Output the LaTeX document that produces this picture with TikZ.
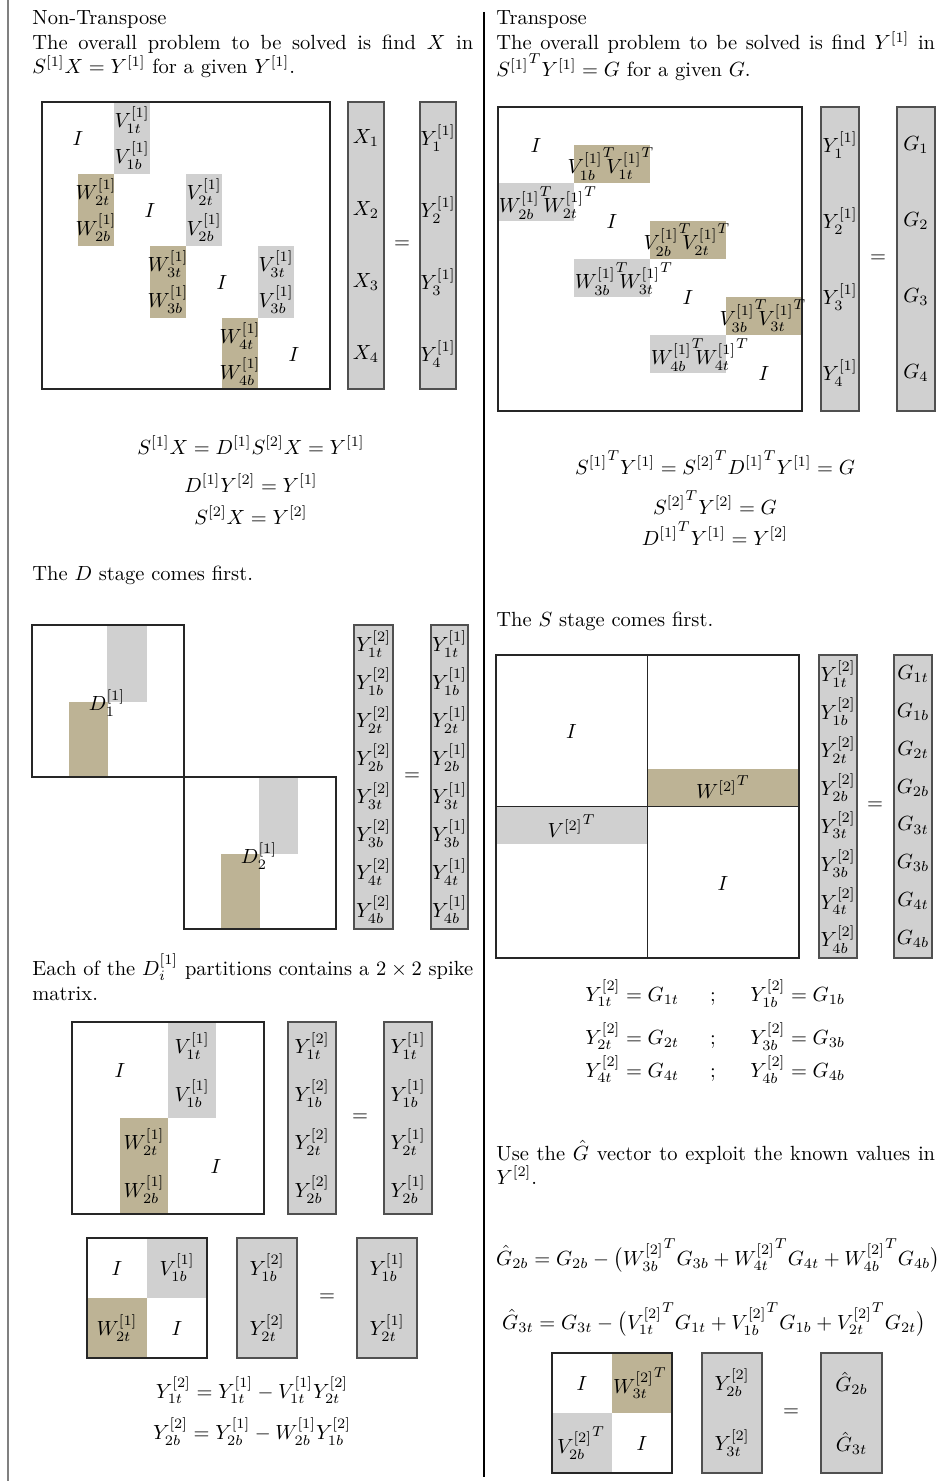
\documentclass[tikz,border=0pt]{standalone}
\usepackage{amsmath}
\definecolor{tanc}{RGB}{189,179,149}
\definecolor{lgray}{RGB}{208,208,208}
\definecolor{vborder}{RGB}{80,80,80}
\tikzset{
  mbox/.style={draw=black!85, line width=0.6pt},
  vecbox/.style={fill=lgray, draw=vborder, line width=0.6pt},
  tanfill/.style={fill=tanc},
  grayfill/.style={fill=lgray},
  lbl/.style={inner sep=0pt, anchor=center},
  txt/.style={inner sep=0pt, anchor=base west},
  eqn/.style={inner sep=0pt, anchor=base},
}
\newcommand{\tpair}[3]{${#1_{#2}^{[1]}}^{T}\mkern-8mu{#1_{#3}^{[1]}}^{T}$}
\begin{document}
\begin{tikzpicture}[x=0.4878pt,y=-0.4878pt]
\useasboundingbox (0,0) rectangle (949,1481);
\draw[gray, line width=0.5pt] (8,0) -- (8,1481);
\draw[black, line width=1pt] (484,12) -- (484,1477);

% ================= LEFT COLUMN =================
\node[txt] (t1) at (32,25) {Non-Transpose};
\node[txt] (t2) at (32,50) {\makebox[215pt][s]{The overall problem to be solved is find $X$ in}};
\node[txt] (t3) at (32,74) {$S^{[1]}X = Y^{[1]}$ for a given $Y^{[1]}$.};

% Matrix 1
\fill[grayfill] (114,102) rectangle (150,174);
\fill[tanfill] (78,174) rectangle (114,246);
\fill[grayfill] (186,174) rectangle (222,246);
\fill[tanfill] (150,246) rectangle (186,318);
\fill[grayfill] (258,246) rectangle (294,318);
\fill[tanfill] (222,318) rectangle (258,389);
\draw[mbox] (42,102) rectangle (330,389);
\node[lbl] (a1) at (78,138) {$I$};
\node[lbl] (a2) at (150,210) {$I$};
\node[lbl] (a3) at (222,282) {$I$};
\node[lbl] (a4) at (294,354) {$I$};
\node[lbl] (av1t) at (132,120) {$V_{1t}^{[1]}$};
\node[lbl] (av1b) at (132,156) {$V_{1b}^{[1]}$};
\node[lbl] (aw2t) at (96,192) {$W_{2t}^{[1]}$};
\node[lbl] (aw2b) at (96,228) {$W_{2b}^{[1]}$};
\node[lbl] (av2t) at (204,192) {$V_{2t}^{[1]}$};
\node[lbl] (av2b) at (204,228) {$V_{2b}^{[1]}$};
\node[lbl] (aw3t) at (168,264) {$W_{3t}^{[1]}$};
\node[lbl] (aw3b) at (168,300) {$W_{3b}^{[1]}$};
\node[lbl] (av3t) at (276,264) {$V_{3t}^{[1]}$};
\node[lbl] (av3b) at (276,300) {$V_{3b}^{[1]}$};
\node[lbl] (aw4t) at (240,336) {$W_{4t}^{[1]}$};
\node[lbl] (aw4b) at (240,372) {$W_{4b}^{[1]}$};
\draw[vecbox] (348,102) rectangle (384,389);
\draw[vecbox] (420,102) rectangle (456,389);
\foreach \k in {1,...,4} {
  \node[lbl] (ax\k) at (366,66+72*\k) {$X_{\k}$};
  \node[lbl] (ay\k) at (438,66+72*\k) {$Y_{\k}^{[1]}$};
}
\node[lbl] (aeq) at (402,245) {$=$};

\node[eqn] (e1) at (251,454) {$S^{[1]}X = D^{[1]}S^{[2]}X = Y^{[1]}$};
\node[eqn] (e2) at (251,492) {$D^{[1]}Y^{[2]} = Y^{[1]}$};
\node[eqn] (e3) at (251,524) {$S^{[2]}X = Y^{[2]}$};
\node[txt] (t4) at (32,580) {The $D$ stage comes first.};

% D matrix
\fill[grayfill] (107,625) rectangle (147,702);
\fill[tanfill] (69,702) rectangle (108,777);
\fill[grayfill] (259,777) rectangle (298,854);
\fill[tanfill] (221,854) rectangle (260,929);
\draw[mbox] (32,625) rectangle (184,777);
\draw[mbox] (184,777) rectangle (336,929);
\node[lbl] (d1) at (107,703) {$D_1^{[1]}$};
\node[lbl] (d2) at (259,856) {$D_2^{[1]}$};
\draw[vecbox] (354,625) rectangle (393,929);
\draw[vecbox] (431,625) rectangle (468,929);
\foreach \s [count=\k] in {1t,1b,2t,2b,3t,3b,4t,4b} {
  \node[lbl] (by\k) at (373.5,606+38*\k) {$Y_{\s}^{[2]}$};
  \node[lbl] (bz\k) at (449.5,606+38*\k) {$Y_{\s}^{[1]}$};
}
\node[lbl] (beq) at (412,777) {$=$};

\node[txt] (t5) at (32,975) {\makebox[215pt][s]{Each of the $D_i^{[1]}$ partitions contains a $2\times2$ spike}};
\node[txt] (t6) at (32,1000) {matrix.};

% Matrix 3
\fill[grayfill] (168,1022) rectangle (216,1118);
\fill[tanfill] (120,1118) rectangle (168,1214);
\draw[mbox] (72,1022) rectangle (264,1214);
\node[lbl] (c1) at (120,1070) {$I$};
\node[lbl] (c2) at (216,1166) {$I$};
\node[lbl] (cv1t) at (192,1046) {$V_{1t}^{[1]}$};
\node[lbl] (cv1b) at (192,1094) {$V_{1b}^{[1]}$};
\node[lbl] (cw2t) at (144,1142) {$W_{2t}^{[1]}$};
\node[lbl] (cw2b) at (144,1190) {$W_{2b}^{[1]}$};
\draw[vecbox] (288,1022) rectangle (336,1214);
\draw[vecbox] (384,1022) rectangle (432,1214);
\foreach \s [count=\k] in {1t,1b,2t,2b} {
  \node[lbl] (cy\k) at (312,998+48*\k) {$Y_{\s}^{[2]}$};
  \node[lbl] (cz\k) at (408,998+48*\k) {$Y_{\s}^{[1]}$};
}
\node[lbl] (ceq) at (360,1118) {$=$};

% Matrix 4
\fill[grayfill] (147,1238) rectangle (207,1298);
\fill[tanfill] (87,1298) rectangle (147,1358);
\draw[mbox] (87,1238) rectangle (207,1358);
\node[lbl] (f1) at (117,1268) {$I$};
\node[lbl] (f2) at (177,1328) {$I$};
\node[lbl] (fv) at (177,1268) {$V_{1b}^{[1]}$};
\node[lbl] (fw) at (117,1328) {$W_{2t}^{[1]}$};
\draw[vecbox] (237,1238) rectangle (297,1358);
\draw[vecbox] (357,1238) rectangle (417,1358);
\node[lbl] (fy1) at (267,1268) {$Y_{1b}^{[2]}$};
\node[lbl] (fy2) at (267,1328) {$Y_{2t}^{[2]}$};
\node[lbl] (fz1) at (387,1268) {$Y_{1b}^{[1]}$};
\node[lbl] (fz2) at (387,1328) {$Y_{2t}^{[1]}$};
\node[lbl] (feq) at (327,1298) {$=$};

\node[eqn] (e4) at (252,1398) {$Y_{1t}^{[2]} = Y_{1t}^{[1]} - V_{1t}^{[1]}Y_{2t}^{[2]}$};
\node[eqn] (e5) at (252,1439) {$Y_{2b}^{[2]} = Y_{2b}^{[1]} - W_{2b}^{[1]}Y_{1b}^{[2]}$};

% ================= RIGHT COLUMN =================
\node[txt] (r1) at (496,25) {Transpose};
\node[txt] (r2) at (496,50) {\makebox[214pt][s]{The overall problem to be solved is find $Y^{[1]}$ in}};
\node[txt] (r3) at (496,77) {${S^{[1]}}^TY^{[1]} = G$ for a given $G$.};

% Matrix 2
\fill[tanfill] (574,145) rectangle (650,183);
\fill[tanfill] (650,221) rectangle (726,259);
\fill[tanfill] (726,297) rectangle (802,335);
\fill[grayfill] (498,183) rectangle (574,221);
\fill[grayfill] (574,259) rectangle (650,297);
\fill[grayfill] (650,335) rectangle (726,373);
\draw[mbox] (498,107) rectangle (802,411);
\node[lbl] (g1) at (536,145) {$I$};
\node[lbl] (g2) at (612,221) {$I$};
\node[lbl] (g3) at (688,297) {$I$};
\node[lbl] (g4) at (764,373) {$I$};
\node[lbl] (gt1) at (611,164) {\tpair{V}{1b}{1t}};
\node[lbl] (gt2) at (687,240) {\tpair{V}{2b}{2t}};
\node[lbl] (gt3) at (763,316) {\tpair{V}{3b}{3t}};
\node[lbl] (gg1) at (548,203) {\tpair{W}{2b}{2t}};
\node[lbl] (gg2) at (624,279) {\tpair{W}{3b}{3t}};
\node[lbl] (gg3) at (700,355) {\tpair{W}{4b}{4t}};
\draw[vecbox] (821,107) rectangle (859,411);
\draw[vecbox] (897,107) rectangle (935,411);
\foreach \k in {1,...,4} {
  \node[lbl] (gy\k) at (840,69+76*\k) {$Y_{\k}^{[1]}$};
  \node[lbl] (gG\k) at (916,69+76*\k) {$G_{\k}$};
}
\node[lbl] (geq) at (878,259) {$=$};

\node[eqn] (e6) at (715,474) {${S^{[1]}}^TY^{[1]} = {S^{[2]}}^T{D^{[1]}}^TY^{[1]} = G$};
\node[eqn] (e7) at (715,514) {${S^{[2]}}^TY^{[2]} = G$};
\node[eqn] (e8) at (715,545) {${D^{[1]}}^TY^{[1]} = Y^{[2]}$};
\node[txt] (r4) at (496,626) {The $S$ stage comes first.};

% Matrix 5
\fill[tanfill] (647.5,768.6) rectangle (799,806.5);
\fill[grayfill] (496,806.5) rectangle (647.5,844.4);
\draw[mbox] (496,655) rectangle (799,958);
\draw[mbox] (647.5,655) -- (647.5,958);
\draw[mbox] (496,806.5) -- (799,806.5);
\node[lbl] (h1) at (571.5,731) {$I$};
\node[lbl] (h2) at (723,883) {$I$};
\node[lbl] (hw) at (723,787) {${W^{[2]}}^T$};
\node[lbl] (hv) at (571.5,826) {${V^{[2]}}^T$};
\draw[vecbox] (819,655) rectangle (857,958);
\draw[vecbox] (894,655) rectangle (932,958);
\foreach \s [count=\k] in {1t,1b,2t,2b,3t,3b,4t,4b} {
  \node[lbl] (hy\k) at (838,636+37.9*\k) {$Y_{\s}^{[2]}$};
  \node[lbl] (hG\k) at (913,636+37.9*\k) {$G_{\s}$};
}
\node[lbl] (heq) at (875,806) {$=$};

% equations with semicolons
\node[txt] (k1a) at (585,1001) {$Y_{1t}^{[2]} = G_{1t}$};
\node[eqn] (k1s) at (713,1001) {;};
\node[txt] (k1b) at (750,1001) {$Y_{1b}^{[2]} = G_{1b}$};
\node[txt] (k2a) at (585,1044) {$Y_{2t}^{[2]} = G_{2t}$};
\node[eqn] (k2s) at (713,1044) {;};
\node[txt] (k2b) at (750,1044) {$Y_{3b}^{[2]} = G_{3b}$};
\node[txt] (k3a) at (585,1077) {$Y_{4t}^{[2]} = G_{4t}$};
\node[eqn] (k3s) at (713,1077) {;};
\node[txt] (k3b) at (750,1077) {$Y_{4b}^{[2]} = G_{4b}$};

\node[txt] (r5) at (496,1160) {\makebox[214pt][s]{Use the $\hat{G}$ vector to exploit the known values in}};
\node[txt] (r6) at (496,1184) {$Y^{[2]}$.};

\node[eqn] (e9) at (718,1265) {$\hat{G}_{2b} = G_{2b} - \bigl({W_{3b}^{[2]}}^TG_{3b} + {W_{4t}^{[2]}}^TG_{4t} + {W_{4b}^{[2]}}^TG_{4b}\bigr)$};
\node[eqn] (e10) at (714,1329) {$\hat{G}_{3t} = G_{3t} - \bigl({V_{1t}^{[2]}}^TG_{1t} + {V_{1b}^{[2]}}^TG_{1b} + {V_{2t}^{[2]}}^TG_{2t}\bigr)$};

% Matrix 6
\fill[tanfill] (612,1353) rectangle (672,1413);
\fill[grayfill] (552,1413) rectangle (612,1473);
\draw[mbox] (552,1353) rectangle (672,1473);
\node[lbl] (m1) at (582,1383) {$I$};
\node[lbl] (m2) at (642,1443) {$I$};
\node[lbl] (mw) at (640,1383) {${W_{3t}^{[2]}}^T$};
\node[lbl] (mv) at (581,1443) {${V_{2b}^{[2]}}^T$};
\draw[vecbox] (702,1353) rectangle (762,1473);
\draw[vecbox] (821,1353) rectangle (882,1473);
\node[lbl] (my1) at (732,1383) {$Y_{2b}^{[2]}$};
\node[lbl] (my2) at (732,1443) {$Y_{3t}^{[2]}$};
\node[lbl] (mg1) at (851.5,1383) {$\hat{G}_{2b}$};
\node[lbl] (mg2) at (851.5,1443) {$\hat{G}_{3t}$};
\node[lbl] (meq) at (791,1413) {$=$};
\end{tikzpicture}
\end{document}
